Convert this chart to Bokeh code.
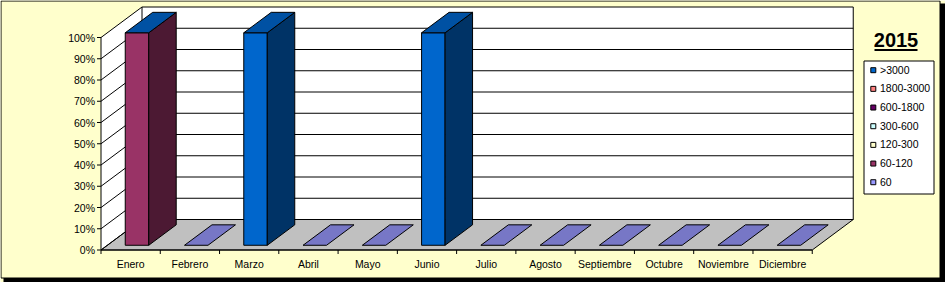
from bokeh.plotting import figure
from bokeh.models import Range1d, ColumnDataSource
from bokeh.embed import file_html
from bokeh.resources import INLINE
from bokeh.core.properties import value

# ---------------- data ----------------
months = ["Enero", "Febrero", "Marzo", "Abril", "Mayo", "Junio", "Julio",
          "Agosto", "Septiembre", "Octubre", "Noviembre", "Diciembre"]
series_names = [">3000", "1800-3000", "600-1800", "300-600", "120-300", "60-120", "60"]
series_colors = ["#0066CC", "#FF8080", "#660066", "#CCFFFF", "#FFFFCC", "#993366", "#9999FF"]
s_gt3000 = [0, 0, 100, 0, 0, 100, 0, 0, 0, 0, 0, 0]
s_1800_3000 = [0, 0, 0, 0, 0, 0, 0, 0, 0, 0, 0, 0]
s_600_1800 = [0, 0, 0, 0, 0, 0, 0, 0, 0, 0, 0, 0]
s_300_600 = [0, 0, 0, 0, 0, 0, 0, 0, 0, 0, 0, 0]
s_120_300 = [0, 0, 0, 0, 0, 0, 0, 0, 0, 0, 0, 0]
s_60_120 = [100, 0, 0, 0, 0, 0, 0, 0, 0, 0, 0, 0]
s_60 = [0, 0, 0, 0, 0, 0, 0, 0, 0, 0, 0, 0]
series_values = [s_gt3000, s_1800_3000, s_600_1800, s_300_600, s_120_300, s_60_120, s_60]
y_ticks = [0, 10, 20, 30, 40, 50, 60, 70, 80, 90, 100]
y_tick_labels = ["0%", "10%", "20%", "30%", "40%", "50%", "60%", "70%", "80%", "90%", "100%"]
title_text = "2015"

# ---------------- geometry (layout only) ----------------
W, H = 945, 282
X0, CW = 100.5, 59.27      # px of front-left corner, px per category
Y0, PPU = 249.5, 2.125     # px of 0 %, px per percent
FONT = "Liberation Sans"


def X(px):
    return (px - X0) / CW


def Y(py):
    return (Y0 - py) / PPU


DX = 41.0 / CW             # depth offset in category units
DY = 30.5 / PPU            # depth offset in percent units
D0, DD = 0.155, 0.67       # bar depth start / extent (fraction of total depth)
BW = 23.5 / CW             # bar width
N = len(months)


def shade(hexcol, f):
    h = hexcol.lstrip("#")
    r, g, b = (int(h[i:i + 2], 16) for i in (0, 2, 4))
    return "#%02x%02x%02x" % (int(r * f), int(g * f), int(b * f))


p = figure(width=W, height=H, output_backend="svg", toolbar_location=None,
           x_range=Range1d(X(0), X(W)), y_range=Range1d(Y(H), Y(0)),
           x_axis_type=None, y_axis_type=None, min_border=0,
           background_fill_color="#FFFFCC", border_fill_color="#FFFFCC",
           outline_line_color=None)
p.xgrid.visible = False
p.ygrid.visible = False

# ---------- outer frame with shadow ----------
p.quad(left=[X(939.5), X(3)], right=[X(945), X(945)],
       top=[Y(3), Y(277.5)], bottom=[Y(282), Y(282)],
       fill_color="black", line_color=None)
p.multi_line(xs=[[X(0.5), X(939.5), X(939.5), X(0.5), X(0.5)]],
             ys=[[Y(0.5), Y(0.5), Y(277.5), Y(277.5), Y(0.5)]],
             line_color="black", line_width=1)

# ---------- walls and floor ----------
p.patches(xs=[[0, DX, DX, 0]], ys=[[0, DY, 100 + DY, 100]],
          fill_color="white", line_color=None)
p.quad(left=[DX], right=[N + DX], bottom=[DY], top=[100 + DY],
       fill_color="white", line_color="black", line_width=1)
p.patches(xs=[[0, N, N + DX, DX]], ys=[[0, 0, DY, DY]],
          fill_color="#C0C0C0", line_color="black", line_width=1)

# gridlines
gx, gy = [], []
for t in y_ticks:
    gx.append([0, DX])
    gy.append([t, t + DY])
    if 0 < t < 100:
        gx.append([DX, N + DX])
        gy.append([t + DY, t + DY])
p.multi_line(xs=gx, ys=gy, line_color="black", line_width=1)

# axes lines and ticks
ax, ay = [[0, 0], [0, N]], [[0, 100], [0, 0]]
for t in y_ticks:
    ax.append([X(96.5), 0])
    ay.append([t, t])
for i in range(N + 1):
    ax.append([i, i])
    ay.append([0, Y(253.5)])
p.multi_line(xs=ax, ys=ay, line_color="black", line_width=1)

# ---------- bars ----------
front = dict(left=[], right=[], bottom=[], top=[], color=[])
sides = dict(xs=[], ys=[], color=[])
tops = dict(xs=[], ys=[], color=[])
order = list(range(len(series_names)))[::-1]   # bottom -> top
ox, oy = D0 * DX, D0 * DY
ddx, ddy = DD * DX, DD * DY
for i in range(N):
    xl = i + 0.5 - BW / 2 + ox
    xr = xl + BW
    total = sum(series_values[k][i] for k in order)
    if total == 0:
        yb = oy
        tops["xs"].append([xl, xr, xr + ddx, xl + ddx])
        tops["ys"].append([yb, yb, yb + ddy, yb + ddy])
        tops["color"].append(shade(series_colors[-1], 0.78))
        continue
    cum = 0.0
    for k in order:
        v = series_values[k][i] / total * 100.0
        if v <= 0:
            continue
        b, t = cum + oy, cum + v + oy
        front["left"].append(xl)
        front["right"].append(xr)
        front["bottom"].append(b)
        front["top"].append(t)
        front["color"].append(series_colors[k])
        sides["xs"].append([xr, xr + ddx, xr + ddx, xr])
        sides["ys"].append([b, b + ddy, t + ddy, t])
        sides["color"].append(shade(series_colors[k], 0.5))
        cum += v
    yt = cum + oy
    tops["xs"].append([xl, xr, xr + ddx, xl + ddx])
    tops["ys"].append([yt, yt, yt + ddy, yt + ddy])
    tops["color"].append(shade(series_colors[0], 0.8))

p.quad(source=ColumnDataSource(front), left="left", right="right", bottom="bottom",
       top="top", fill_color="color", line_color="black", line_width=1)
p.patches(source=ColumnDataSource(sides), xs="xs", ys="ys",
          fill_color="color", line_color="black", line_width=1)
p.patches(source=ColumnDataSource(tops), xs="xs", ys="ys",
          fill_color="color", line_color="black", line_width=1)

# ---------- labels ----------
p.text(x=[i + 0.5 for i in range(N)], y=[Y(263)] * N, text=months,
       text_font=value(FONT), text_font_size="10.5px", text_color="black",
       text_align="center", text_baseline="middle")
p.text(x=[X(94.5)] * len(y_ticks), y=y_ticks, text=y_tick_labels,
       text_font=value(FONT), text_font_size="10.5px", text_color="black",
       text_align="right", text_baseline="middle")

# ---------- legend ----------
p.quad(left=[X(863.5)], right=[X(933.5)], top=[Y(60.5)], bottom=[Y(193.5)],
       fill_color="white", line_color="black", line_width=1)
nl = len(series_names)
centers = [69.2 + 18.67 * k for k in range(nl)]
p.rect(x=[X(872.8)] * nl, y=[Y(c + 0.5) for c in centers], width=5, height=5,
       width_units="screen", height_units="screen",
       fill_color=series_colors, line_color="black", line_width=1)
p.text(x=[X(879.5)] * nl, y=[Y(c) for c in centers], text=series_names,
       text_font=value(FONT), text_font_size="10.5px", text_color="black",
       text_align="left", text_baseline="middle")

# title
p.text(x=[X(895.5)], y=[Y(39.5)], text=[title_text], text_font=value(FONT),
       text_font_size="20px", text_font_style="bold", text_color="black",
       text_align="center", text_baseline="middle")
p.segment(x0=[X(874)], y0=[Y(49.5)], x1=[X(917)], y1=[Y(49.5)],
          line_color="black", line_width=2)

open("out.html", "w").write(file_html(p, INLINE))
